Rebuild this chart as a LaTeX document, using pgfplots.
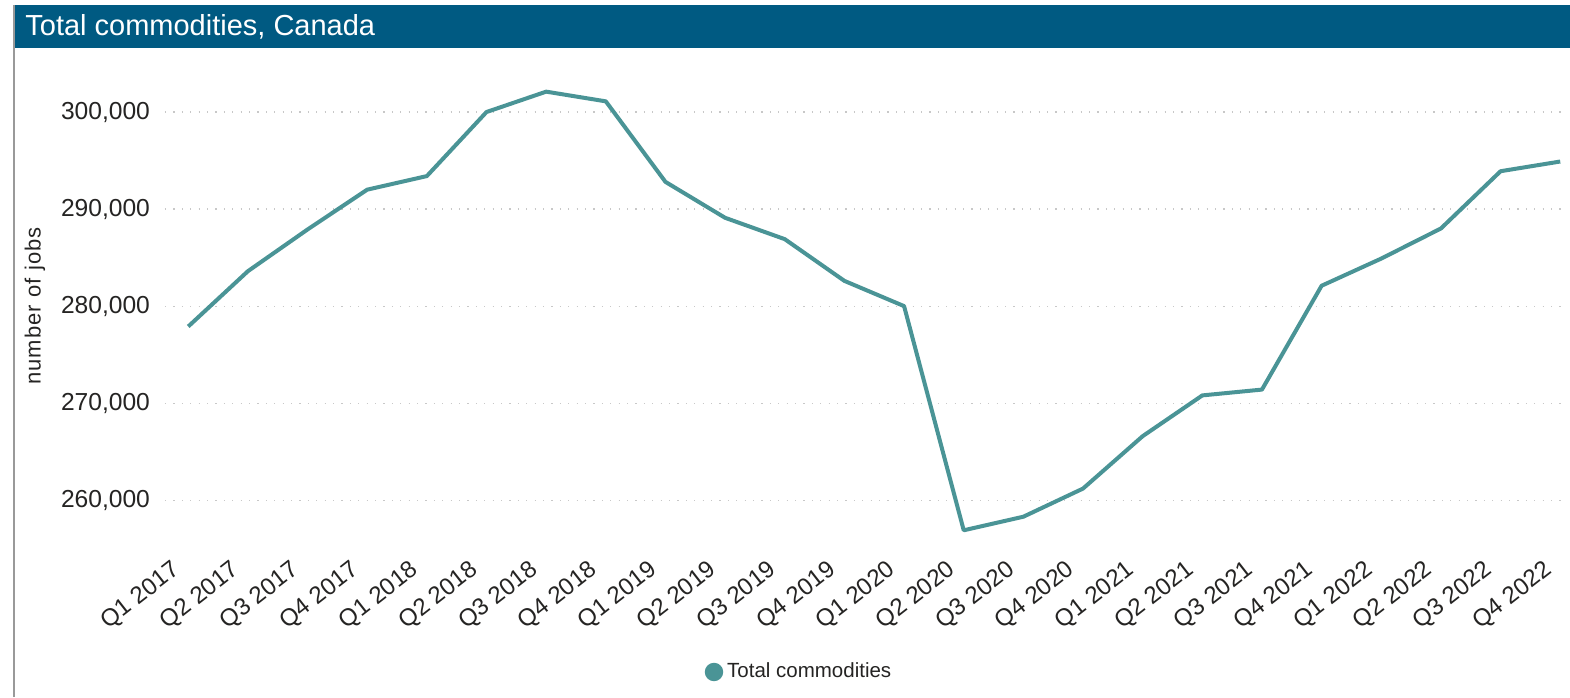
\documentclass[border=0pt]{standalone}
\usepackage{pgfplots}
\pgfplotsset{compat=1.18}
\usepackage{fontspec}
\setmainfont{Liberation Sans}
\definecolor{linec}{HTML}{4A9496}
\definecolor{barc}{HTML}{005A82}
\definecolor{txtc}{HTML}{252423}
\definecolor{gridc}{HTML}{C8C8C8}
\begin{document}
\begin{tikzpicture}
\useasboundingbox (0,0) rectangle (785pt,348.5pt);
\fill[white] (0,0) rectangle (785pt,348.5pt);
\begin{axis}[
  at={(82.5pt,78.5pt)}, anchor=south west,
  scale only axis, width=700pt, height=238.25pt,
  xmin=-0.39, xmax=23.08, ymin=255900, ymax=305000,
  axis line style={draw=none},
  major tick length=0pt,
  xtick={0,...,23},
  xticklabels={Q1 2017,Q2 2017,Q3 2017,Q4 2017,Q1 2018,Q2 2018,Q3 2018,Q4 2018,Q1 2019,Q2 2019,Q3 2019,Q4 2019,Q1 2020,Q2 2020,Q3 2020,Q4 2020,Q1 2021,Q2 2021,Q3 2021,Q4 2021,Q1 2022,Q2 2022,Q3 2022,Q4 2022},
  xticklabel style={rotate=38, anchor=north east, inner sep=1pt, font=\fontsize{12}{14}\selectfont, text=txtc, yshift=-0.9pt, xshift=-11.8pt},
  ytick={260000,270000,280000,290000,300000},
  yticklabels={{260,000},{270,000},{280,000},{290,000},{300,000}},
  yticklabel style={font=\fontsize{12.3}{14}\selectfont, text=txtc, xshift=-4pt},
  scaled y ticks=false,
  ymajorgrids,
  major grid style={gridc, line width=0.6pt, dash pattern=on 0.6pt off 3.6pt},
  legend style={at={(0.4536,-0.277)}, anchor=center, draw=none, fill=none,
    font=\fontsize{10.25}{12}\selectfont, text=txtc, inner sep=0pt},
  legend image code/.code={\fill[linec] (0.3em,0) circle (3.6pt);},
  clip=false,
]
\addplot[linec, line width=2pt, line join=round] coordinates {
(0,277900) (1,283600) (2,287900) (3,292000) (4,293400) (5,300000)
(6,302100) (7,301100) (8,292800) (9,289100) (10,286900) (11,282600)
(12,280000) (13,256900) (14,258300) (15,261200) (16,266600) (17,270800)
(18,271400) (19,282100) (20,284900) (21,288000) (22,293900) (23,294900)
};
\addlegendentry{Total commodities}
\end{axis}
\begin{scope}[x=0.5pt,y=0.5pt]
\fill[barc] (14,649) rectangle (1570,692);
\node[anchor=west, text=white, font=\fontsize{14.5}{16}\selectfont, inner sep=0pt] at (25,670) {Total commodities, Canada};
\draw[gray!80, line width=1pt] (14,0) -- (14,692);
\node[rotate=90, text=txtc, font=\fontsize{11}{12}\selectfont\addfontfeature{LetterSpace=5}, inner sep=0pt] at (35,391) {number of jobs};
\end{scope}
\end{tikzpicture}
\end{document}
